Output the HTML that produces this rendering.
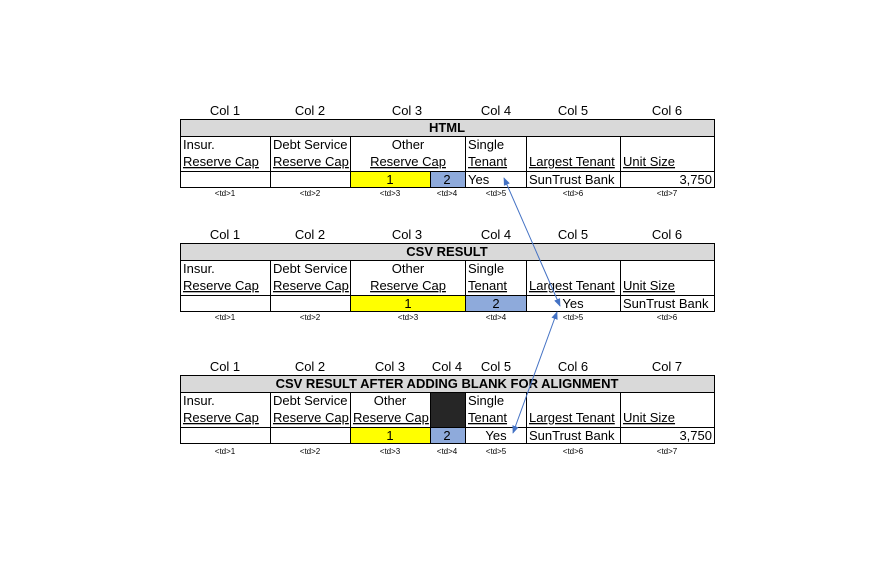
<!DOCTYPE html>
<html><head><meta charset="utf-8"><style>
body{margin:0;background:#fff;}
svg{display:block;font-family:"Liberation Sans",Arial,sans-serif;}
.t{font-size:13px;fill:#000;}
.u{font-size:13px;fill:#000;text-decoration:underline;}
.h{font-size:13px;font-weight:bold;fill:#000;}
.s{font-size:8px;fill:#000;}
</style></head><body>
<svg width="895" height="563" viewBox="0 0 895 563">
<defs>
<marker id="a" viewBox="0 0 10 10" refX="9" refY="5" markerWidth="8" markerHeight="8" orient="auto-start-reverse"><path d="M0,1 L10,5 L0,9 z" fill="#4472C4"/></marker>
</defs>

<!-- TABLE 1 -->
<g>
<g class="t" text-anchor="middle">
<text x="225" y="115">Col 1</text><text x="310" y="115">Col 2</text><text x="407" y="115">Col 3</text><text x="496" y="115">Col 4</text><text x="573" y="115">Col 5</text><text x="667" y="115">Col 6</text>
</g>
<rect x="180.5" y="119.5" width="534" height="17" fill="#d9d9d9" stroke="#000"/>
<text class="h" x="447" y="132" text-anchor="middle">HTML</text>
<rect x="350" y="171" width="80" height="16" fill="#ffff00"/>
<rect x="430" y="171" width="35" height="16" fill="#8eaadb"/>
<g stroke="#000" fill="none">
<rect x="180.5" y="136.5" width="534" height="51"/>
<line x1="180" y1="171.5" x2="715" y2="171.5"/>
<line x1="270.5" y1="136" x2="270.5" y2="188"/><line x1="350.5" y1="136" x2="350.5" y2="188"/>
<line x1="430.5" y1="171" x2="430.5" y2="188"/><line x1="465.5" y1="136" x2="465.5" y2="188"/>
<line x1="526.5" y1="136" x2="526.5" y2="188"/><line x1="620.5" y1="136" x2="620.5" y2="188"/>
</g>
<text class="t" x="183" y="149">Insur.</text><text class="u" x="183" y="166">Reserve Cap</text>
<text class="t" x="273" y="149">Debt Service</text><text class="u" x="273" y="166">Reserve Cap</text>
<text class="t" x="408" y="149" text-anchor="middle">Other</text><text class="u" x="408" y="166" text-anchor="middle">Reserve Cap</text>
<text class="t" x="468" y="149">Single</text><text class="u" x="468" y="166">Tenant</text>
<text class="u" x="529" y="166">Largest Tenant</text><text class="u" x="623" y="166">Unit Size</text>
<text class="t" x="390" y="184" text-anchor="middle">1</text><text class="t" x="447" y="184" text-anchor="middle">2</text>
<text class="t" x="468" y="184">Yes</text><text class="t" x="529" y="184">SunTrust Bank</text><text class="t" x="712" y="184" text-anchor="end">3,750</text>
<g class="s" text-anchor="middle">
<text x="225" y="196">&lt;td&gt;1</text><text x="310" y="196">&lt;td&gt;2</text><text x="390" y="196">&lt;td&gt;3</text><text x="447" y="196">&lt;td&gt;4</text><text x="496" y="196">&lt;td&gt;5</text><text x="573" y="196">&lt;td&gt;6</text><text x="667" y="196">&lt;td&gt;7</text>
</g>
</g>

<!-- TABLE 2 -->
<g transform="translate(0,124)">
<g class="t" text-anchor="middle">
<text x="225" y="115">Col 1</text><text x="310" y="115">Col 2</text><text x="407" y="115">Col 3</text><text x="496" y="115">Col 4</text><text x="573" y="115">Col 5</text><text x="667" y="115">Col 6</text>
</g>
<rect x="180.5" y="119.5" width="534" height="17" fill="#d9d9d9" stroke="#000"/>
<text class="h" x="447" y="132" text-anchor="middle">CSV RESULT</text>
<rect x="350" y="171" width="115" height="16" fill="#ffff00"/>
<rect x="465" y="171" width="61" height="16" fill="#8eaadb"/>
<g stroke="#000" fill="none">
<rect x="180.5" y="136.5" width="534" height="51"/>
<line x1="180" y1="171.5" x2="715" y2="171.5"/>
<line x1="270.5" y1="136" x2="270.5" y2="188"/><line x1="350.5" y1="136" x2="350.5" y2="188"/>
<line x1="465.5" y1="136" x2="465.5" y2="188"/>
<line x1="526.5" y1="136" x2="526.5" y2="188"/><line x1="620.5" y1="136" x2="620.5" y2="188"/>
</g>
<text class="t" x="183" y="149">Insur.</text><text class="u" x="183" y="166">Reserve Cap</text>
<text class="t" x="273" y="149">Debt Service</text><text class="u" x="273" y="166">Reserve Cap</text>
<text class="t" x="408" y="149" text-anchor="middle">Other</text><text class="u" x="408" y="166" text-anchor="middle">Reserve Cap</text>
<text class="t" x="468" y="149">Single</text><text class="u" x="468" y="166">Tenant</text>
<text class="u" x="529" y="166">Largest Tenant</text><text class="u" x="623" y="166">Unit Size</text>
<text class="t" x="408" y="184" text-anchor="middle">1</text><text class="t" x="496" y="184" text-anchor="middle">2</text>
<text class="t" x="573" y="184" text-anchor="middle">Yes</text><text class="t" x="623" y="184">SunTrust Bank</text>
<g class="s" text-anchor="middle">
<text x="225" y="196">&lt;td&gt;1</text><text x="310" y="196">&lt;td&gt;2</text><text x="408" y="196">&lt;td&gt;3</text><text x="496" y="196">&lt;td&gt;4</text><text x="573" y="196">&lt;td&gt;5</text><text x="667" y="196">&lt;td&gt;6</text>
</g>
</g>

<!-- TABLE 3 -->
<g transform="translate(0,256)">
<g class="t" text-anchor="middle">
<text x="225" y="115">Col 1</text><text x="310" y="115">Col 2</text><text x="390" y="115">Col 3</text><text x="447" y="115">Col 4</text><text x="496" y="115">Col 5</text><text x="573" y="115">Col 6</text><text x="667" y="115">Col 7</text>
</g>
<rect x="180.5" y="119.5" width="534" height="17" fill="#d9d9d9" stroke="#000"/>
<text class="h" x="447" y="132" text-anchor="middle">CSV RESULT AFTER ADDING BLANK FOR ALIGNMENT</text>
<rect x="430" y="136" width="35" height="35" fill="#262626"/>
<rect x="350" y="171" width="80" height="16" fill="#ffff00"/>
<rect x="430" y="171" width="35" height="16" fill="#8eaadb"/>
<g stroke="#000" fill="none">
<rect x="180.5" y="136.5" width="534" height="51"/>
<line x1="180" y1="171.5" x2="715" y2="171.5"/>
<line x1="270.5" y1="136" x2="270.5" y2="188"/><line x1="350.5" y1="136" x2="350.5" y2="188"/>
<line x1="430.5" y1="136" x2="430.5" y2="188"/><line x1="465.5" y1="136" x2="465.5" y2="188"/>
<line x1="526.5" y1="136" x2="526.5" y2="188"/><line x1="620.5" y1="136" x2="620.5" y2="188"/>
</g>
<text class="t" x="183" y="149">Insur.</text><text class="u" x="183" y="166">Reserve Cap</text>
<text class="t" x="273" y="149">Debt Service</text><text class="u" x="273" y="166">Reserve Cap</text>
<text class="t" x="390" y="149" text-anchor="middle">Other</text><text class="u" x="353" y="166">Reserve Cap</text>
<text class="t" x="468" y="149">Single</text><text class="u" x="468" y="166">Tenant</text>
<text class="u" x="529" y="166">Largest Tenant</text><text class="u" x="623" y="166">Unit Size</text>
<text class="t" x="390" y="184" text-anchor="middle">1</text><text class="t" x="447" y="184" text-anchor="middle">2</text>
<text class="t" x="496" y="184" text-anchor="middle">Yes</text><text class="t" x="529" y="184">SunTrust Bank</text><text class="t" x="712" y="184" text-anchor="end">3,750</text>
<g class="s" text-anchor="middle">
<text x="225" y="198">&lt;td&gt;1</text><text x="310" y="198">&lt;td&gt;2</text><text x="390" y="198">&lt;td&gt;3</text><text x="447" y="198">&lt;td&gt;4</text><text x="496" y="198">&lt;td&gt;5</text><text x="573" y="198">&lt;td&gt;6</text><text x="667" y="198">&lt;td&gt;7</text>
</g>
</g>

<!-- arrows -->
<g stroke="#4472C4" stroke-width="1" fill="none">
<line x1="504" y1="178" x2="560" y2="306" marker-start="url(#a)" marker-end="url(#a)"/>
<line x1="557" y1="312" x2="513" y2="433" marker-start="url(#a)" marker-end="url(#a)"/>
</g>
</svg>
</body></html>
